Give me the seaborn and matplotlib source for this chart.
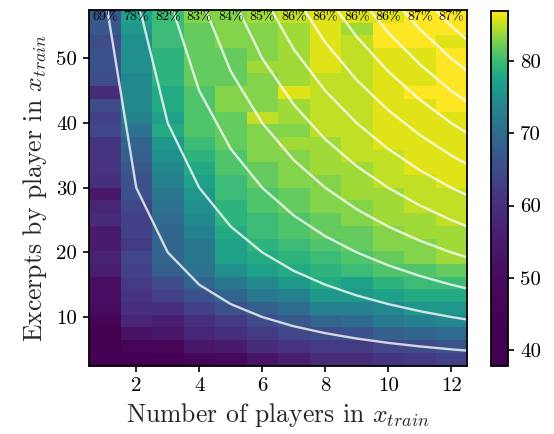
import numpy as np
import pandas as pd
import matplotlib
matplotlib.use("Agg")
import matplotlib.pyplot as plt
from matplotlib.colors import ListedColormap
import seaborn as sns

players = list(range(1, 13))
excerpts = list(range(3, 58, 2))  # 28 rows, bottom -> top

# accuracy (%) per number of players, listed bottom (3 excerpts) -> top (57 excerpts)
acc_p1 = [38, 40, 42, 45, 50, 51, 51, 56, 57, 55, 55, 59, 58, 54, 60, 61, 61, 61, 64, 63, 65, 59, 65, 66, 66, 65, 67, 67]
acc_p2 = [43, 46, 52, 58, 60, 61, 62, 63, 64, 62, 63, 63, 64, 66, 66, 67, 68, 69, 71, 73, 74, 74, 74, 75, 75, 75, 76, 77]
acc_p3 = [41, 47, 54, 56, 60, 63, 65, 68, 69, 69, 69, 70, 71, 72, 73, 74, 75, 76, 78, 77, 78, 78, 79, 79, 79, 80, 80, 80]
acc_p4 = [47, 54, 58, 60, 63, 66, 69, 71, 72, 72, 73, 74, 75, 76, 77, 78, 79, 80, 81, 81, 81, 81, 82, 82, 82, 82, 82, 83]
acc_p5 = [48, 55, 60, 62, 66, 69, 72, 75, 77, 77, 78, 79, 79, 80, 80, 81, 81, 82, 82, 82, 83, 83, 82, 82, 82, 83, 83, 83]
acc_p6 = [53, 59, 62, 65, 68, 72, 74, 77, 78, 79, 80, 80, 81, 81, 82, 82, 83, 83, 83, 85, 83, 83, 83, 84, 83, 83, 83, 84]
acc_p7 = [56, 61, 64, 67, 70, 73, 76, 78, 79, 80, 81, 81, 82, 82, 83, 83, 83, 84, 83, 84, 84, 86, 84, 84, 84, 84, 84, 85]
acc_p8 = [59, 62, 65, 69, 73, 76, 78, 79, 80, 81, 82, 82, 83, 83, 83, 84, 84, 84, 85, 85, 85, 85, 85, 86, 86, 86, 86, 86]
acc_p9 = [59, 62, 66, 70, 73, 76, 77, 80, 81, 82, 82, 83, 83, 84, 84, 84, 85, 85, 85, 85, 85, 85, 85, 85, 85, 85, 84, 86]
acc_p10 = [61, 64, 68, 72, 74, 77, 79, 81, 82, 83, 83, 84, 84, 84, 85, 85, 85, 86, 86, 86, 86, 86, 86, 86, 86, 87, 87, 86]
acc_p11 = [62, 65, 69, 73, 76, 78, 80, 81, 83, 83, 84, 84, 85, 85, 85, 86, 86, 86, 86, 86, 86, 87, 86, 86, 86, 87, 87, 87]
acc_p12 = [63, 66, 70, 74, 76, 78, 80, 82, 84, 84, 84, 85, 85, 85, 86, 86, 86, 86, 86, 86, 87, 87, 87, 87, 87, 86, 87, 87]

top_labels = ["69%", "78%", "82%", "83%", "84%", "85%", "86%", "86%", "86%", "86%", "87%", "87%"]
iso_totals = [60, 120, 180, 240, 300, 360, 420, 480, 540, 600, 660, 720]
x_ticks = [2, 4, 6, 8, 10, 12]
y_ticks = [10, 20, 30, 40, 50]
cbar_ticks = [40, 50, 60, 70, 80]

sns.set_theme(style="ticks")
plt.rcParams["font.family"] = ["cmr10"]
plt.rcParams["mathtext.fontset"] = "cm"
plt.rcParams["axes.formatter.use_mathtext"] = True
plt.rcParams["axes.unicode_minus"] = False

# viridis with colours compressed toward the high end (linear colourbar ticks)
cmap = ListedColormap(plt.cm.viridis(np.linspace(0, 1, 256) ** 2.5))

W, H = 554, 434
fig = plt.figure(figsize=(W / 100, H / 100), dpi=100)
ax = fig.add_axes([89 / W, 1 - 365.5 / H, (467 - 89) / W, (365.5 - 10) / H])
cax = fig.add_axes([490.7 / W, 1 - 365.7 / H, 17.6 / W, (365.7 - 10.7) / H])

cols = [acc_p1, acc_p2, acc_p3, acc_p4, acc_p5, acc_p6,
        acc_p7, acc_p8, acc_p9, acc_p10, acc_p11, acc_p12]
df = pd.DataFrame(np.array(cols).T, index=excerpts, columns=players).iloc[::-1]

sns.heatmap(df, ax=ax, cmap=cmap, vmin=37.8, vmax=87.0, cbar_ax=cax,
            xticklabels=False, yticklabels=False)

n_rows = len(excerpts)
y_lo, y_hi = 2.5, 57.5
row_h = (y_hi - y_lo) / n_rows


def hm_x(x):
    return np.asarray(x, dtype=float) - 0.5


def hm_y(y):
    return (y_hi - np.asarray(y, dtype=float)) / row_h


xs = np.array(players + [13], dtype=float)
for c in iso_totals:
    ax.plot(hm_x(xs), hm_y(c / xs), color="white", alpha=0.78, lw=1.7, solid_capstyle="butt")

ax.set_xlim(0, len(players))
ax.set_ylim(n_rows, 0)

for j, lab in enumerate(top_labels):
    ax.text(j + 0.5, 0.1, lab, ha="center", va="top", fontsize=10, color="black")

ax.set_xticks(hm_x(x_ticks))
ax.set_xticklabels([str(v) for v in x_ticks])
ax.set_yticks(hm_y(y_ticks))
ax.set_yticklabels([str(v) for v in y_ticks])
ax.tick_params(axis="both", direction="out", length=4.5, width=1.2, colors="black",
               labelsize=15, left=True, bottom=True, pad=4)
for s in ax.spines.values():
    s.set_visible(True)
    s.set_color("black")
    s.set_linewidth(1.3)

ax.set_xlabel(r"Number of players in $x_{train}$", fontsize=18.5, labelpad=4)
ax.set_ylabel(r"Excerpts by player in $x_{train}$", fontsize=18.5, labelpad=5)

cbar = ax.collections[0].colorbar
cbar.set_ticks(cbar_ticks)
cbar.set_ticklabels([str(v) for v in cbar_ticks])
cbar.outline.set_visible(True)
cbar.outline.set_edgecolor("black")
cbar.outline.set_linewidth(1.3)
cax.tick_params(labelsize=15, length=4.5, width=1.2, colors="black", direction="out", pad=4)

fig.savefig("out.png", dpi=100)
